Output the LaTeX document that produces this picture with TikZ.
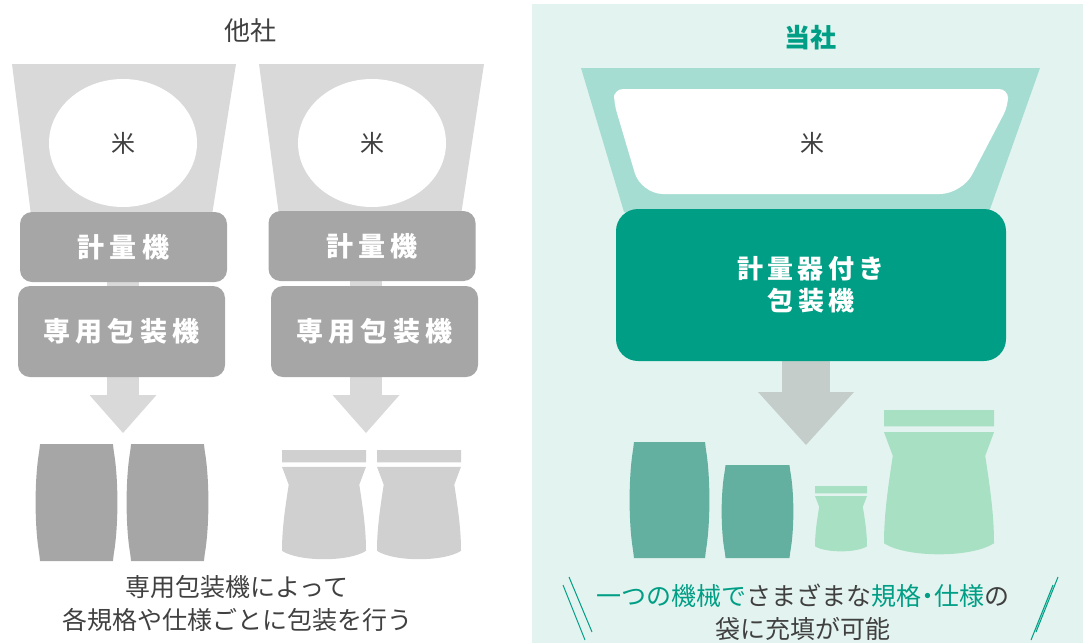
\documentclass[tikz,border=0pt]{standalone}
\usepackage{fontspec}
\setmainfont{Noto Sans CJK JP}
\newfontfamily\wide[LetterSpace=19]{Noto Sans CJK JP}
\newfontfamily\widesm[LetterSpace=16]{Noto Sans CJK JP}
\usetikzlibrary{shapes.geometric,arrows.meta}

\definecolor{txt}{HTML}{404040}
\definecolor{hopgrey}{HTML}{D9D9D9}
\definecolor{boxgrey}{HTML}{A6A6A6}
\definecolor{pouchgrey}{HTML}{D0D0D0}
\definecolor{mint}{HTML}{E3F4F0}
\definecolor{hopteal}{HTML}{A6DDD3}
\definecolor{maingreen}{HTML}{009E85}
\definecolor{arrowteal}{HTML}{C5CDCB}
\definecolor{sackteal}{HTML}{63AFA0}
\definecolor{pouchgreen}{HTML}{A8E0C4}

\pgfdeclarelayer{back}
\pgfsetlayers{back,main}

% sack: x, y, width, height, colour
\newcommand{\sack}[5]{%
  \fill[#5,shift={(#1,#2)},xscale=#3,yscale=#4]
    (0.05,0) -- (0.95,0) -- (0.96,0.06)
    .. controls (1.02,0.3) and (1.02,0.7) .. (0.96,0.94)
    -- (0.95,1) -- (0.05,1) -- (0.04,0.94)
    .. controls (-0.02,0.7) and (-0.02,0.3) .. (0.04,0.06) -- cycle;}
% pouch: x, y, width, height, colour
\newcommand{\pouch}[5]{%
  \fill[#5,shift={(#1,#2)},xscale=#3,yscale=#4]
    (0,0) rectangle (1,0.11)
    (0,0.15) -- (1,0.15) -- (0.92,0.31)
    .. controls (0.97,0.55) and (1,0.72) .. (1,0.9)
    .. controls (0.8,1.0) and (0.2,1.0) .. (0,0.9)
    .. controls (0,0.72) and (0.03,0.55) .. (0.08,0.31) -- cycle;}

\begin{document}
\begin{tikzpicture}
  [x=1pt,y=-1pt,
   rice/.style={ellipse,fill=white,minimum width=148,minimum height=128,inner sep=0,
     text=txt,font=\fontsize{24}{24}\selectfont},
   greybox/.style={rounded corners=12,fill=boxgrey,text=white,minimum width=207,
     font=\wide\bfseries\fontsize{27}{27}\selectfont},
   flow/.style={line width=32pt,hopgrey,-{Triangle[width=67pt,length=38pt,line width=0pt]}},
   note/.style={align=center,text=txt,font=\fontsize{25}{33}\selectfont}]
  \useasboundingbox (0,0) rectangle (1083,643);

  \node (title1)[text=txt,font=\fontsize{26}{26}\selectfont] at (250,31) {他社};
  \node (title2)[text=maingreen,font=\bfseries\fontsize{26}{26}\selectfont] at (810,38) {当社};

  \node (r1)[rice] at (123,143) {米};
  \node (r2)[rice] at (372,143) {米};
  \node (r3)[text=txt,font=\fontsize{24}{24}\selectfont] at (812,143) {米};

  \node (k1)[greybox,minimum height=70] at (123.5,247) {計量機};
  \node (k2)[greybox,minimum height=70] at (372,246) {計量機};
  \node (s1)[greybox,minimum height=91] at (121.5,331.5) {専用包装機};
  \node (s2)[greybox,minimum height=91] at (374.5,331.5) {専用包装機};
  \node (g)[rounded corners=22,fill=maingreen,text=white,minimum width=390,minimum height=152,
    align=center,font=\widesm\bfseries\fontsize{26}{32}\selectfont] at (811,285) {計量器付き\\包装機};

  \coordinate (t1) at (123,433);
  \coordinate (t2) at (366,433);
  \coordinate (t3) at (806,445);

  \begin{pgfonlayer}{back}
    \fill[mint] (532,4) rectangle (1083,643);
    \fill[hopgrey] (12,64) -- (236,64) -- (212,215) -- (31,215) -- cycle;
    \fill[hopgrey] (259,64) -- (484,64) -- (461,215) -- (279,215) -- cycle;
    \fill[hopteal] (581,68) -- (1040,68) -- (989,212) -- (624,212) -- cycle;
    \fill[white,rounded corners=9] (614,89) -- (1008,89) -- (1008,106)
      [rounded corners=22] -- (962,194) -- (641,194) [rounded corners=9] -- (614,103) -- cycle;
    \draw[flow] (t1 |- k1.south) -- (t1);
    \draw[flow] (t2 |- k2.south) -- (t2);
    \draw[flow,arrowteal,line width=48pt,-{Triangle[width=96pt,length=53pt,line width=0pt]}]
      (t3 |- g.south) -- (t3);
  \end{pgfonlayer}

  \sack{36}{444}{81}{117}{boxgrey}
  \sack{127}{444}{81}{117}{boxgrey}
  \pouch{282}{450}{84}{112}{pouchgrey}
  \pouch{377}{450}{84}{112}{pouchgrey}

  \sack{630}{442}{79}{116}{sackteal}
  \sack{722}{465}{71}{93}{sackteal}
  \pouch{815}{486}{52}{67}{pouchgreen}
  \pouch{884}{410}{110}{148}{pouchgreen}

  \node (c1)[note] at (237,603) {専用包装機によって\\各規格や仕様ごとに包装を行う};
  \node (c2)[note] at (803,612) {{\color{maingreen}一つの機械で}さまざまな{\color{maingreen}規格\makebox[13pt]{・}仕様}の\\袋に充填が可能};

  \draw[maingreen,line width=1pt] (569,577) -- (592,632) (563,585) -- (585,640);
  \draw[maingreen,line width=1pt] (1058,577) -- (1036,632) (1053,585) -- (1031,640);
\end{tikzpicture}
\end{document}
